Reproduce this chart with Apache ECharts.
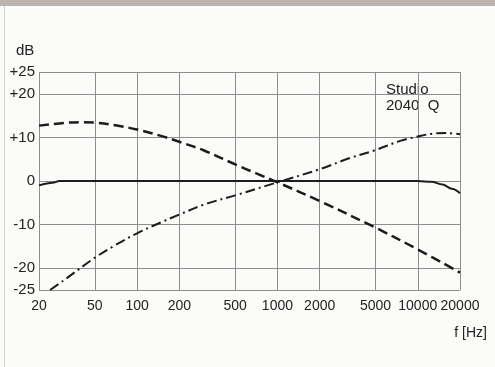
<!DOCTYPE html>
<html>
<head>
<meta charset="utf-8">
<script src="https://cdn.jsdelivr.net/npm/echarts@6/dist/echarts.min.js"></script>
<style>
  html, body { margin: 0; padding: 0; background: #fbfbf9; }
  #chart { width: 495px; height: 367px; }
</style>
</head>
<body>
<div id="chart"></div>
<script>
// frequency grid (Hz) and level grid (dB)
const freqTicks = [20, 50, 100, 200, 500, 1000, 2000, 5000, 10000, 20000];
const dbTicks = [-25, -20, -10, 0, 10, 20, 25];

// solid curve
const flatFreq = [20, 25, 28, 40, 100, 1000, 10000, 12500, 15000, 17500, 20000];
const flatDb = [-1.0, -0.4, 0, 0, 0, 0, 0, -0.2, -0.8, -1.8, -2.8];

// dashed curve
const bassFreq = [20, 30, 40, 50, 70, 100, 150, 200, 300, 500, 700, 1000, 2000, 5000, 10000, 20000];
const bassDb = [12.7, 13.3, 13.5, 13.4, 12.8, 11.8, 10.3, 9.0, 7.0, 3.8, 1.8, -0.3, -4.6, -10.7, -15.7, -21];

// dash-dot curve
const trebleFreq = [24, 30, 50, 70, 100, 150, 200, 300, 500, 1000, 2000, 3300, 5000, 7500, 10000, 13000, 16000, 20000];
const trebleDb = [-25, -22.8, -17.6, -14.7, -12, -9.4, -7.7, -5.4, -3.3, -0.3, 2.7, 5.3, 7.1, 9.2, 10.2, 10.9, 11.0, 10.7];

const ink = "#1c1c1c";
const font = "Liberation Sans";

function pairs(freq, db) {
  return freq.map((f, i) => [Math.log10(f), db[i]]);
}

function curve(name, freq, db, type, width, monotone) {
  return {
    name,
    type: "line",
    data: pairs(freq, db),
    smooth: 0.35,
    smoothMonotone: monotone ? "x" : null,
    showSymbol: false,
    clip: true,
    lineStyle: { color: ink, width, type, cap: "butt" },
  };
}

const chart = echarts.init(document.getElementById("chart"), null, { renderer: "canvas" });

chart.setOption({
  animation: false,
  backgroundColor: "#fbfbf9",
  grid: { left: 39, right: 35, top: 72, bottom: 77 },
  xAxis: {
    type: "value",
    min: Math.log10(20),
    max: Math.log10(20000),
    axisLine: { show: false },
    axisTick: { show: false, customValues: freqTicks.map(Math.log10) },
    axisLabel: {
      customValues: freqTicks.map(Math.log10),
      formatter: (v) => String(Math.round(Math.pow(10, v))),
      margin: 9,
      color: "#222",
      fontSize: 14,
      fontFamily: font,
    },
    splitLine: { show: true, lineStyle: { color: "#8e8e8e", width: 1 } },
  },
  yAxis: {
    type: "value",
    min: -25,
    max: 25,
    axisLine: { show: false },
    axisTick: { show: false, customValues: dbTicks },
    axisLabel: {
      customValues: dbTicks,
      formatter: (v) => (v > 0 ? "+" + v : String(v)),
      margin: 4,
      color: "#222",
      fontSize: 15,
      fontFamily: font,
    },
    splitLine: { show: true, lineStyle: { color: "#8e8e8e", width: 1 } },
  },
  graphic: [
    { type: "rect", left: 0, top: 0, shape: { width: 495, height: 6 }, style: { fill: "#bdb4ae" } },
    { type: "rect", left: 4, top: 6, shape: { width: 1, height: 361 }, style: { fill: "#d6d3cf" } },
    { type: "text", left: 16, top: 43, style: { text: "dB", fontSize: 15, fontFamily: font, fill: "#222" } },
    { type: "text", right: 8, top: 326, style: { text: "f [Hz]", fontSize: 14, fontFamily: font, fill: "#222" } },
    {
      type: "text", left: 386, top: 82,
      style: { text: "Studio\n2040  Q", fontSize: 15, lineHeight: 16, fontFamily: font, fill: "#222" },
    },
  ],
  series: [
    curve("flat", flatFreq, flatDb, "solid", 2, true),
    curve("bass", bassFreq, bassDb, [10, 5], 2.5, false),
    curve("treble", trebleFreq, trebleDb, [10, 4, 2, 4], 2, false),
  ],
});
</script>
</body>
</html>
